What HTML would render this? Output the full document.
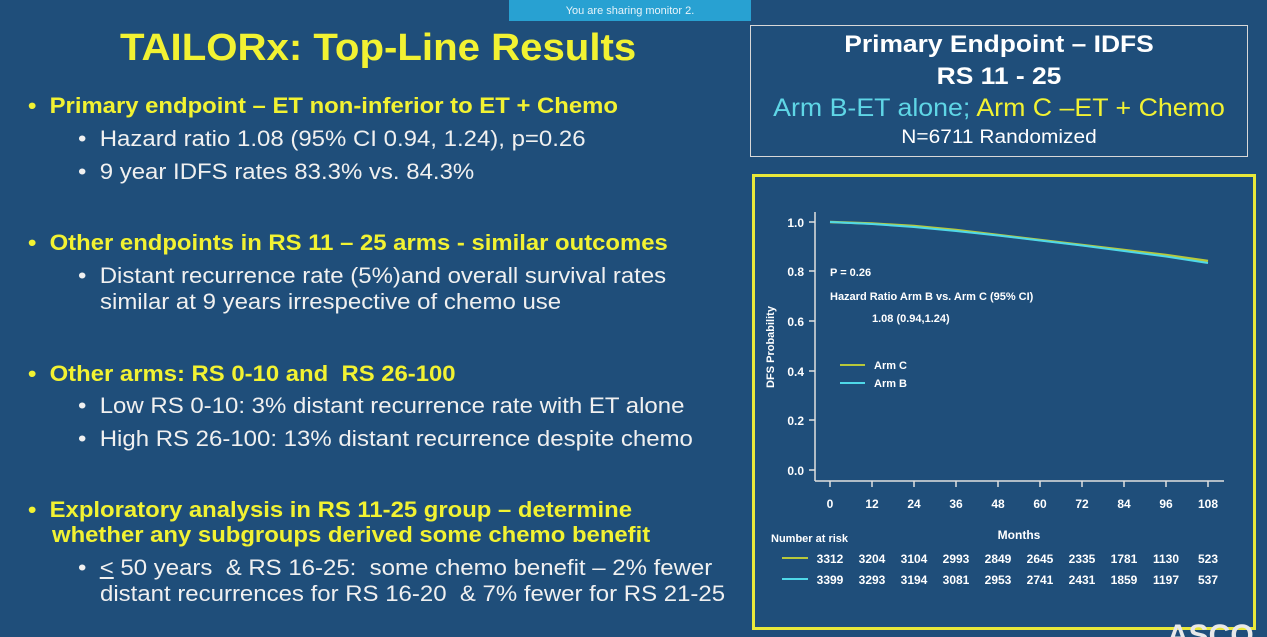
<!DOCTYPE html>
<html><head><meta charset="utf-8"><style>
body{margin:0;width:1267px;height:637px;background:#1f4e7a;position:relative;overflow:hidden;font-family:"Liberation Sans",Arial,sans-serif;}
.t{position:absolute;white-space:nowrap;transform-origin:0 0;}
.y{color:#f2f232;font-weight:bold;font-size:22px;transform:scaleX(1.085);}
.w{color:#f0f0f0;font-size:22px;transform:scaleX(1.09);}
.c{transform-origin:50% 0;}
</style></head><body>
<div class="t" style="left:509px;top:0;width:242px;height:21px;background:#28a1d2;color:#e8f4fa;font-size:11px;text-align:center;line-height:22px;">You are sharing monitor 2.</div>
<div class="t" style="left:120px;top:27px;color:#f2f232;font-weight:bold;font-size:38px;transform:scaleX(1.057);">TAILORx: Top-Line Results</div>

<div class="t y" style="left:28px;top:93px;">•&nbsp;&nbsp;Primary endpoint – ET non-inferior to ET + Chemo</div>
<div class="t w" style="left:78px;top:126px;">•&nbsp;&nbsp;Hazard ratio 1.08 (95% CI 0.94, 1.24), p=0.26</div>
<div class="t w" style="left:78px;top:159px;">•&nbsp;&nbsp;9 year IDFS rates 83.3% vs. 84.3%</div>

<div class="t y" style="left:28px;top:230px;">•&nbsp;&nbsp;Other endpoints in RS 11 – 25 arms - similar outcomes</div>
<div class="t w" style="left:78px;top:263px;">•&nbsp;&nbsp;Distant recurrence rate (5%)and overall survival rates</div>
<div class="t w" style="left:100px;top:289px;">similar at 9 years irrespective of chemo use</div>

<div class="t y" style="left:28px;top:361px;">•&nbsp;&nbsp;Other arms: RS 0-10 and&nbsp; RS 26-100</div>
<div class="t w" style="left:78px;top:393px;">•&nbsp;&nbsp;Low RS 0-10: 3% distant recurrence rate with ET alone</div>
<div class="t w" style="left:78px;top:426px;">•&nbsp;&nbsp;High RS 26-100: 13% distant recurrence despite chemo</div>

<div class="t y" style="left:28px;top:497px;">•&nbsp;&nbsp;Exploratory analysis in RS 11-25 group – determine</div>
<div class="t y" style="left:52px;top:522px;">whether any subgroups derived some chemo benefit</div>
<div class="t w" style="left:78px;top:555px;">•&nbsp;&nbsp;<u>&lt;</u> 50 years&nbsp; &amp; RS 16-25:&nbsp; some chemo benefit – 2% fewer</div>
<div class="t w" style="left:100px;top:581px;">distant recurrences for RS 16-20&nbsp; &amp; 7% fewer for RS 21-25</div>

<div style="position:absolute;left:750px;top:25px;width:496px;height:130px;border:1px solid #d8d8d8;"></div>
<div class="t c" style="left:750px;top:31px;width:498px;text-align:center;color:#fff;font-weight:bold;font-size:24px;transform:scaleX(1.1);">Primary Endpoint – IDFS</div>
<div class="t c" style="left:750px;top:63px;width:498px;text-align:center;color:#fff;font-weight:bold;font-size:24px;transform:scaleX(1.1);">RS 11 - 25</div>
<div class="t c" style="left:750px;top:94px;width:498px;text-align:center;font-size:25px;transform:scaleX(1.07);"><span style="color:#5fd6e6">Arm B-ET alone; </span><span style="color:#f2f232">Arm C –ET + Chemo</span></div>
<div class="t c" style="left:750px;top:127px;width:498px;text-align:center;color:#fff;font-size:19px;transform:scaleX(1.1);">N=6711 Randomized</div>

<div style="position:absolute;left:752px;top:174px;width:498px;height:450px;border:3px solid #e8e83a;"></div>

<svg style="position:absolute;left:0;top:0" width="1267" height="637" font-family="Liberation Sans, Arial, sans-serif" font-weight="bold" fill="#fff">
<g stroke="#e0e0e0" stroke-width="1.5" fill="none">
<line x1="815" y1="212" x2="815" y2="481"/><line x1="815" y1="481" x2="1224" y2="481"/>
<line x1="809" y1="222" x2="815" y2="222"/><line x1="809" y1="271" x2="815" y2="271"/><line x1="809" y1="321" x2="815" y2="321"/><line x1="809" y1="371" x2="815" y2="371"/><line x1="809" y1="420" x2="815" y2="420"/><line x1="809" y1="470" x2="815" y2="470"/>
<line x1="830" y1="481" x2="830" y2="487"/><line x1="872" y1="481" x2="872" y2="487"/><line x1="914" y1="481" x2="914" y2="487"/><line x1="956" y1="481" x2="956" y2="487"/><line x1="998" y1="481" x2="998" y2="487"/><line x1="1040" y1="481" x2="1040" y2="487"/><line x1="1082" y1="481" x2="1082" y2="487"/><line x1="1124" y1="481" x2="1124" y2="487"/><line x1="1166" y1="481" x2="1166" y2="487"/><line x1="1208" y1="481" x2="1208" y2="487"/>
</g>
<g font-size="12" text-anchor="end">
<text x="804" y="227">1.0</text><text x="804" y="276">0.8</text><text x="804" y="326">0.6</text><text x="804" y="376">0.4</text><text x="804" y="425">0.2</text><text x="804" y="475">0.0</text>
</g>
<g font-size="12" text-anchor="middle">
<text x="830" y="508">0</text><text x="872" y="508">12</text><text x="914" y="508">24</text><text x="956" y="508">36</text><text x="998" y="508">48</text><text x="1040" y="508">60</text><text x="1082" y="508">72</text><text x="1124" y="508">84</text><text x="1166" y="508">96</text><text x="1208" y="508">108</text>
<text x="1019" y="539">Months</text>
</g>
<text transform="translate(774,347) rotate(-90)" font-size="11" text-anchor="middle">DFS Probability</text>
<polyline fill="none" stroke="#b8c83a" stroke-width="2.5" points="830,222 872,223.5 914,226 956,230 998,235 1040,240 1082,245 1124,250 1166,255 1208,261"/>
<polyline fill="none" stroke="#4fd8e8" stroke-width="2" points="830,222 872,224 914,227 956,231 998,235.5 1040,240.5 1082,245.5 1124,251 1166,256.5 1208,263"/>
<g font-size="11">
<text x="830" y="276">P = 0.26</text>
<text x="830" y="300">Hazard Ratio Arm B vs. Arm C (95% CI)</text>
<text x="872" y="322">1.08 (0.94,1.24)</text>
<text x="874" y="369">Arm C</text><text x="874" y="387">Arm B</text>
<text x="771" y="542">Number at risk</text>
</g>
<line x1="840" y1="365" x2="865" y2="365" stroke="#b8c83a" stroke-width="2"/>
<line x1="840" y1="383" x2="865" y2="383" stroke="#4fd8e8" stroke-width="2"/>
<line x1="782" y1="558" x2="808" y2="558" stroke="#b8c83a" stroke-width="2"/>
<line x1="782" y1="579" x2="808" y2="579" stroke="#4fd8e8" stroke-width="2"/>
<g font-size="12" text-anchor="middle">
<text x="830" y="563">3312</text><text x="872" y="563">3204</text><text x="914" y="563">3104</text><text x="956" y="563">2993</text><text x="998" y="563">2849</text><text x="1040" y="563">2645</text><text x="1082" y="563">2335</text><text x="1124" y="563">1781</text><text x="1166" y="563">1130</text><text x="1208" y="563">523</text>
<text x="830" y="584">3399</text><text x="872" y="584">3293</text><text x="914" y="584">3194</text><text x="956" y="584">3081</text><text x="998" y="584">2953</text><text x="1040" y="584">2741</text><text x="1082" y="584">2431</text><text x="1124" y="584">1859</text><text x="1166" y="584">1197</text><text x="1208" y="584">537</text>
</g>
<text x="1167" y="645" font-size="30" font-weight="bold" fill="#e8e8e8">ASCO</text>
</svg>
</body></html>
